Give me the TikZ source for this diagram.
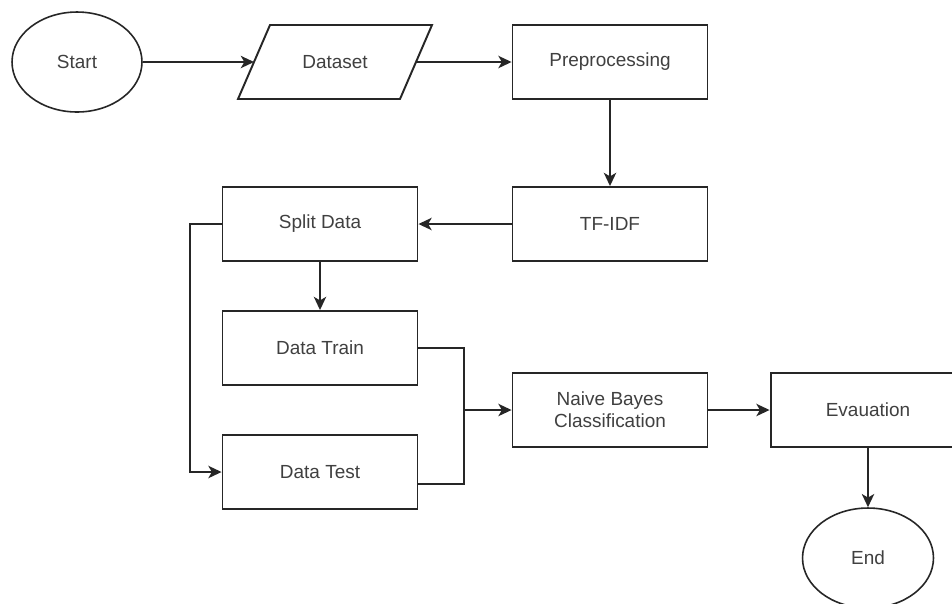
\documentclass[tikz,border=0pt]{standalone}
\usepackage{fontspec}
\setmainfont{Liberation Sans}
\usetikzlibrary{shapes.geometric,arrows.meta,calc}
\begin{document}
\begin{tikzpicture}[x=0.02cm,y=-0.02cm,
  every node/.style={text=black!75,font=\fontsize{10.8}{12.5}\selectfont},
  box/.style={draw=black!85,line width=1.1pt,rectangle,minimum width=3.9cm,minimum height=1.48cm,align=center,inner sep=0pt},
  oval/.style={draw=black!85,line width=0.9pt,ellipse,minimum width=2.6cm,minimum height=2cm,inner sep=0pt},
  conn/.style={draw=black!85,line width=1.1pt},
  arr/.style={conn,-{Stealth[length=7.5pt,width=7pt,inset=2pt]}}]
\clip (0,0) rectangle (952,603);
\fill[white] (0,0) rectangle (952,603);
% nodes
\node[oval] (start) at (77,62) {Start};
\draw[draw=black!85,line width=1.1pt] (270,25) -- (432,25) -- (400,99) -- (238,99) -- cycle;
\node (dataset) at (335,62) {Dataset};
\coordinate (dsL) at (254,62);
\coordinate (dsR) at (416,62);
\node[box] (prep) at (610,62) {Preprocessing};
\node[box] (tfidf) at (610,224) {TF-IDF};
\node[box] (split) at (320,224) {Split Data};
\node[box] (train) at (320,348) {Data Train};
\node[box] (test) at (320,472) {Data Test};
\node[box] (nb) at (610,410) {Naive Bayes\\Classification};
\node[box] (eval) at (868,410) {Evauation};
\node[oval,minimum width=2.62cm] (end) at (868,558) {End};
% helper coordinates
\coordinate (lx) at (190,224);
\coordinate (testR) at (417,484);
\coordinate (jtop) at (464,348);
\coordinate (jbot) at (464,484);
\coordinate (jmid) at (464,410);
% connectors
\draw[arr] (start.east) -- (dsL);
\draw[arr] (dsR) -- (prep.west);
\draw[arr] (prep.south) -- (tfidf.north);
\draw[arr] (tfidf.west) -- (split.east);
\draw[arr] (split.south) -- (train.north);
\draw[arr] (split.west) -- (lx) |- (test.west);
\draw[conn] (train.east) -- (jtop) -- (jbot) -- (testR);
\draw[arr] (jmid) -- (nb.west);
\draw[arr] (nb.east) -- (eval.west);
\draw[arr] (eval.south) -- (end.north);
\end{tikzpicture}
\end{document}
